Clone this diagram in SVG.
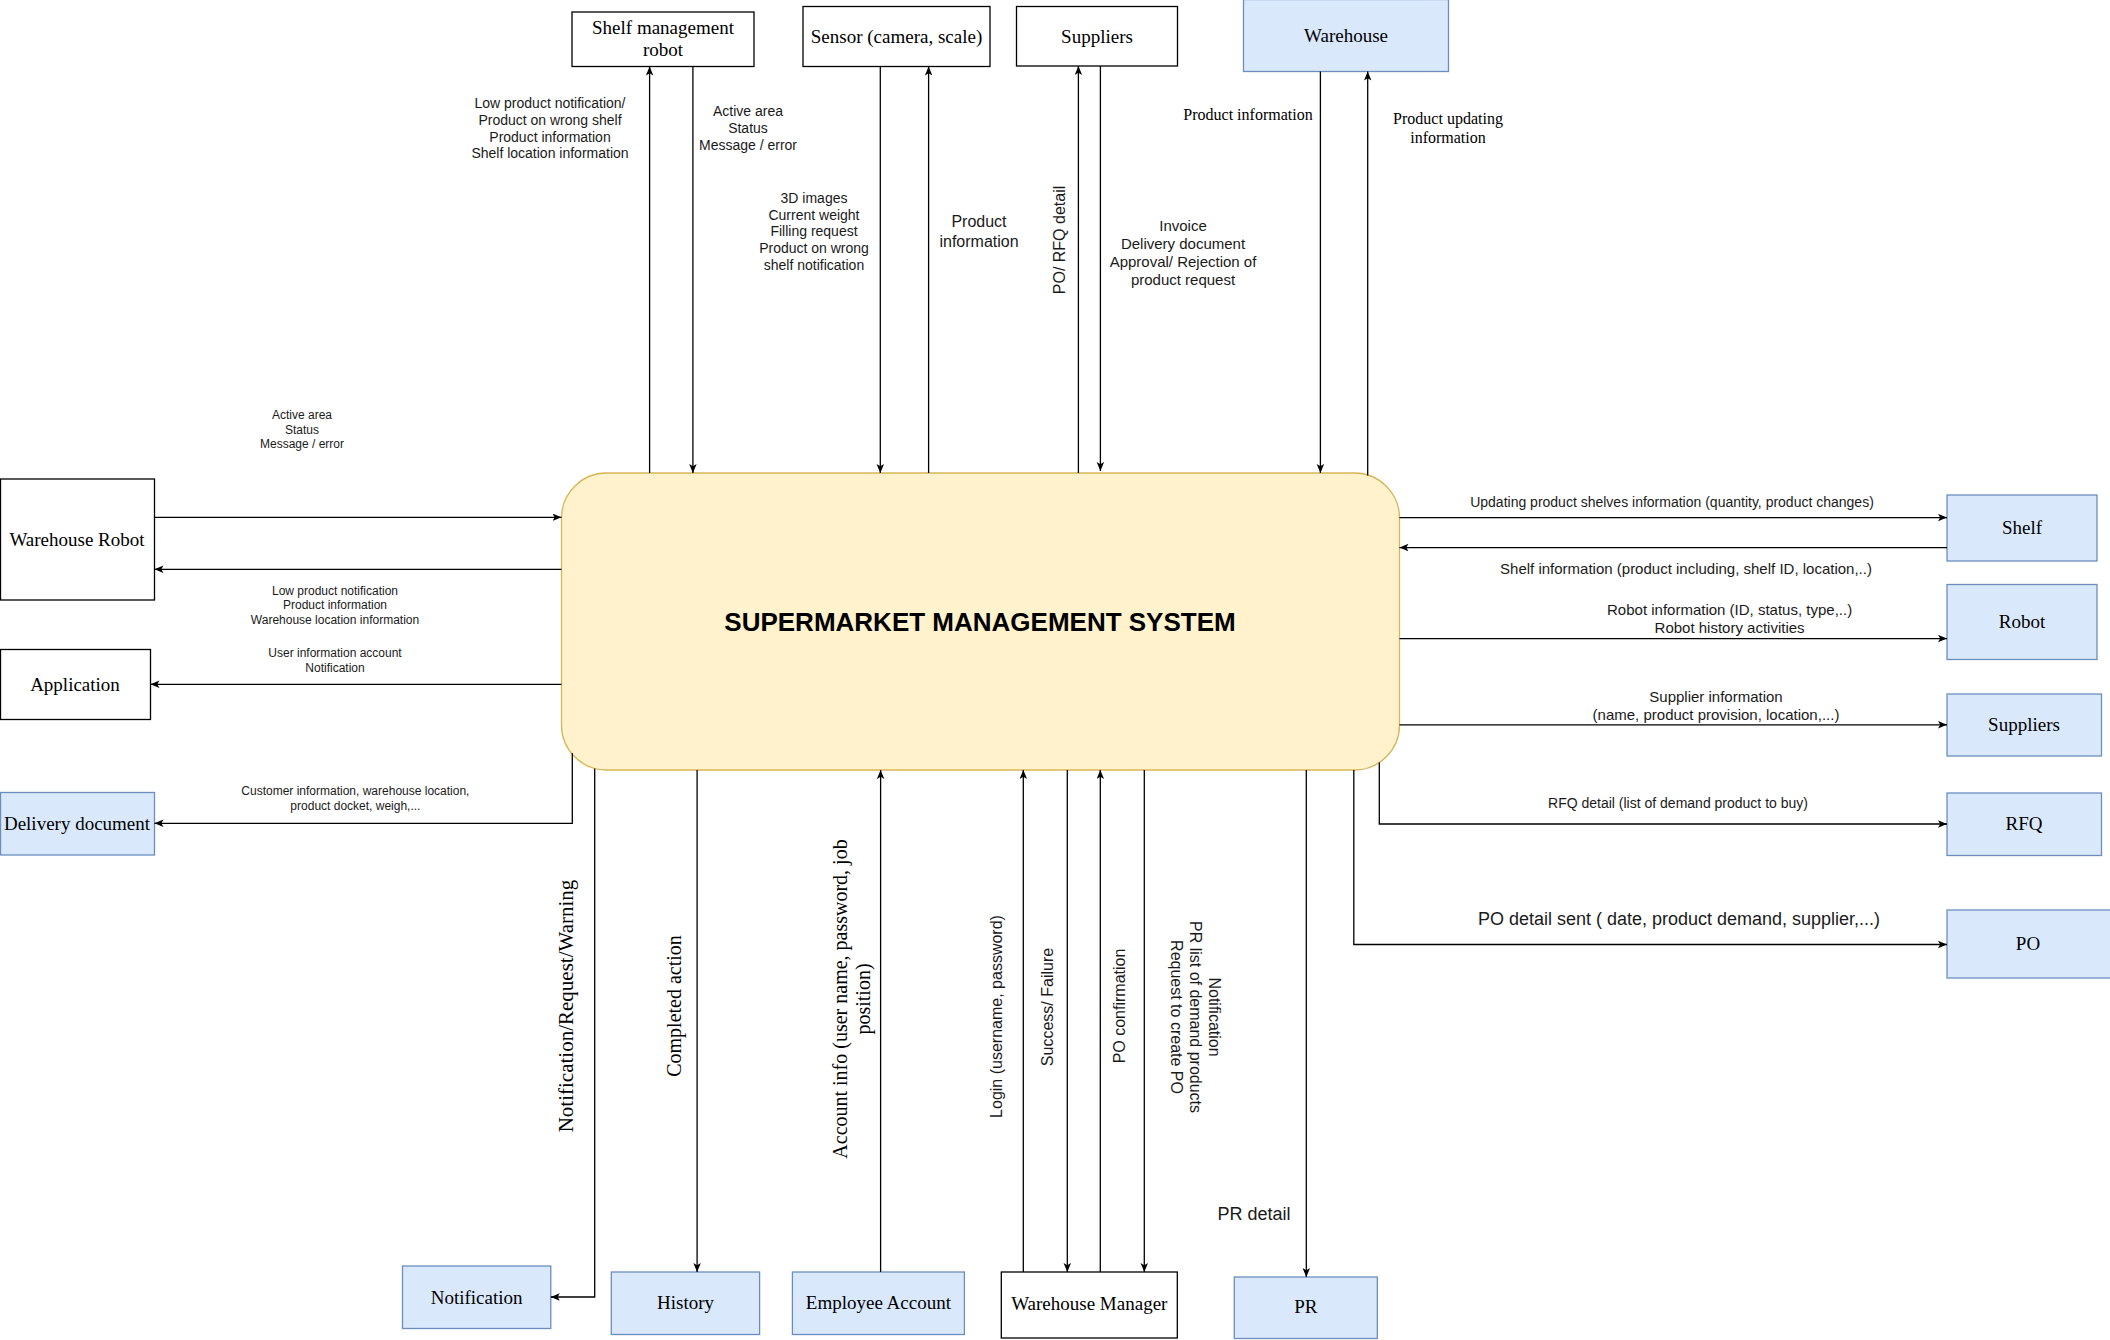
<svg xmlns="http://www.w3.org/2000/svg" width="2110" height="1340" viewBox="0 0 2110 1340">
<defs>
<marker id="arr" markerUnits="userSpaceOnUse" markerWidth="10" markerHeight="8" refX="9" refY="3.75" orient="auto">
<path d="M0,0 L9,3.75 L0,7.5 L2.2,3.75 Z" fill="#000"/>
</marker>
<style>
.box{fill:#fff;stroke:#000;stroke-width:1.3}
.blue{fill:#dae8fc;stroke:#6c8ebf;stroke-width:1.3}
.main{fill:#fff2cc;stroke:#d6b656;stroke-width:1.3}
.nt{font-family:"Liberation Serif","Times New Roman",serif;font-size:19px;fill:#000;text-anchor:middle}
.edge{fill:none;stroke:#000;stroke-width:1.3;marker-end:url(#arr)}
.s{font-family:"Liberation Sans",Arial,sans-serif;fill:#1a1a1a;text-anchor:middle}
.sf{font-family:"Liberation Serif","Times New Roman",serif;fill:#000;text-anchor:middle}
.f12{font-size:12px}.f14{font-size:14px}.f15{font-size:15px}.f16{font-size:16px}.f18{font-size:18px}
</style>
</defs>
<rect width="2110" height="1340" fill="#fff"/>

<g id="main-system">
<rect class="main" x="561.5" y="473" width="838" height="297" rx="45" ry="45"/>
<text x="980" y="631" font-family="Liberation Sans,Arial,sans-serif" font-size="26" font-weight="bold" text-anchor="middle" fill="#000">SUPERMARKET MANAGEMENT SYSTEM</text>
</g>

<g id="shelf-management-robot">
<rect class="box" x="572" y="12" width="182" height="54.5"/>
<text class="nt" font-size="18"><tspan x="663" y="34">Shelf management</tspan><tspan x="663" y="56">robot</tspan></text>
</g>
<g id="sensor">
<rect class="box" x="803" y="6.5" width="187" height="60"/>
<text class="nt" x="896.5" y="42.5">Sensor (camera, scale)</text>
</g>
<g id="suppliers-top">
<rect class="box" x="1016.5" y="6.5" width="161" height="59.5"/>
<text class="nt" x="1097" y="42.5">Suppliers</text>
</g>
<g id="warehouse">
<rect class="blue" x="1243.5" y="-0.5" width="205" height="72"/>
<text class="nt" x="1346" y="42" font-size="18">Warehouse</text>
</g>

<g id="warehouse-robot">
<rect class="box" x="0.5" y="479" width="154" height="121"/>
<text class="nt" x="77" y="545.5">Warehouse Robot</text>
</g>
<g id="application">
<rect class="box" x="0.5" y="649.5" width="150" height="70"/>
<text class="nt" x="75" y="690.5">Application</text>
</g>
<g id="delivery-document">
<rect class="blue" x="0.5" y="792.5" width="154" height="62.5"/>
<text class="nt" x="77" y="830">Delivery document</text>
</g>

<g id="notification">
<rect class="blue" x="402.5" y="1266" width="148.3" height="62.5"/>
<text class="nt" x="476.6" y="1303.5">Notification</text>
</g>
<g id="history">
<rect class="blue" x="611.3" y="1272" width="148.3" height="62.5"/>
<text class="nt" x="685.5" y="1308.5">History</text>
</g>
<g id="employee-account">
<rect class="blue" x="792.4" y="1272" width="172" height="62.5"/>
<text class="nt" x="878.4" y="1308.5">Employee Account</text>
</g>
<g id="warehouse-manager">
<rect class="box" x="1001.3" y="1272" width="176" height="66"/>
<text class="nt" x="1089.3" y="1310">Warehouse Manager</text>
</g>
<g id="pr">
<rect class="blue" x="1234.3" y="1277" width="143" height="61.5"/>
<text class="nt" x="1305.8" y="1313">PR</text>
</g>

<g id="shelf">
<rect class="blue" x="1947" y="495" width="150" height="66"/>
<text class="nt" x="2022" y="534">Shelf</text>
</g>
<g id="robot">
<rect class="blue" x="1947" y="584.5" width="150" height="75"/>
<text class="nt" x="2022" y="628">Robot</text>
</g>
<g id="suppliers-right">
<rect class="blue" x="1947" y="694" width="154.5" height="62"/>
<text class="nt" x="2024" y="731">Suppliers</text>
</g>
<g id="rfq">
<rect class="blue" x="1947" y="793" width="154.5" height="62.5"/>
<text class="nt" x="2024" y="830">RFQ</text>
</g>
<g id="po">
<rect class="blue" x="1947" y="910" width="165" height="68"/>
<text class="nt" x="2028" y="950">PO</text>
</g>

<g id="connectors">
<path class="edge" d="M649.6,473 V66.5"/>
<path class="edge" d="M692.9,66.5 V473"/>
<path class="edge" d="M880.3,66.5 V473"/>
<path class="edge" d="M928.6,473 V66.5"/>
<path class="edge" d="M1078.4,473 V66"/>
<path class="edge" d="M1100.4,66 V471"/>
<path class="edge" d="M1320.4,71.5 V473"/>
<path class="edge" d="M1367.7,475.5 V71.5"/>
<path class="edge" d="M154.5,517.3 H561.5"/>
<path class="edge" d="M561.5,569.3 H154.5"/>
<path class="edge" d="M561.5,684.3 H150.5"/>
<path class="edge" d="M572.3,753 V823.3 H154.5"/>
<path class="edge" d="M594.7,768.5 V1297 H550.8"/>
<path class="edge" d="M697.1,770 V1272"/>
<path class="edge" d="M880.6,1272 V770"/>
<path class="edge" d="M1023.3,1272 V770"/>
<path class="edge" d="M1067.3,770 V1272"/>
<path class="edge" d="M1100.3,1272 V770"/>
<path class="edge" d="M1144.3,770 V1272"/>
<path class="edge" d="M1306.3,770 V1277"/>
<path class="edge" d="M1399.5,517.6 H1947"/>
<path class="edge" d="M1947,547.6 H1399.5"/>
<path class="edge" d="M1399.5,638.6 H1947"/>
<path class="edge" d="M1399.5,724.8 H1947"/>
<path class="edge" d="M1379.3,762.5 V824 H1947"/>
<path class="edge" d="M1353.8,770 V944.5 H1947"/>
</g>

<g id="connector-labels">
<text class="s f14"><tspan x="550" y="108">Low product notification/</tspan><tspan x="550" y="125">Product on wrong shelf</tspan><tspan x="550" y="141.5">Product information</tspan><tspan x="550" y="158">Shelf location information</tspan></text>
<text class="s f14"><tspan x="748" y="116">Active area</tspan><tspan x="748" y="133">Status</tspan><tspan x="748" y="150">Message / error</tspan></text>
<text class="s f14"><tspan x="814" y="203">3D images</tspan><tspan x="814" y="219.5">Current weight</tspan><tspan x="814" y="236">Filling request</tspan><tspan x="814" y="253">Product on wrong</tspan><tspan x="814" y="270">shelf notification</tspan></text>
<text class="s f16"><tspan x="979" y="227">Product</tspan><tspan x="979" y="247">information</tspan></text>
<text class="s f16" transform="translate(1064.5,240) rotate(-90)" x="0" y="0">PO/ RFQ detail</text>
<text class="s f15"><tspan x="1183" y="231">Invoice</tspan><tspan x="1183" y="249">Delivery document</tspan><tspan x="1183" y="267">Approval/ Rejection of</tspan><tspan x="1183" y="285">product request</tspan></text>
<text class="sf" font-size="16" x="1248" y="120">Product information</text>
<text class="sf" font-size="16"><tspan x="1448" y="124">Product updating</tspan><tspan x="1448" y="143">information</tspan></text>

<text class="s f12"><tspan x="302" y="419">Active area</tspan><tspan x="302" y="433.5">Status</tspan><tspan x="302" y="448">Message / error</tspan></text>
<text class="s f12"><tspan x="335" y="595">Low product notification</tspan><tspan x="335" y="609">Product information</tspan><tspan x="335" y="624">Warehouse location information</tspan></text>
<text class="s f12"><tspan x="335" y="657">User information account</tspan><tspan x="335" y="672">Notification</tspan></text>
<text class="s f12"><tspan x="355.4" y="795">Customer information, warehouse location,</tspan><tspan x="355.4" y="810">product docket, weigh,...</tspan></text>

<text class="sf" font-size="21" transform="translate(573,1006) rotate(-90)" x="0" y="0">Notification/Request/Warning</text>
<text class="sf" font-size="20" transform="translate(681,1006) rotate(-90)" x="0" y="0">Completed action</text>
<text class="sf" font-size="20" transform="translate(847,999) rotate(-90)"><tspan x="0" y="0">Account info (user name, password, job</tspan><tspan x="0" y="23">position)</tspan></text>
<text class="s f16" transform="translate(1001.5,1016.5) rotate(-90)" x="0" y="0">Login (username, password)</text>
<text class="s f16" transform="translate(1053,1007) rotate(-90)" x="0" y="0">Success/ Failure</text>
<text class="s f16" transform="translate(1125,1006) rotate(-90)" x="0" y="0">PO confirmation</text>
<text class="s f16" transform="translate(1209,1017) rotate(90)"><tspan x="0" y="0">Notification</tspan><tspan x="0" y="19">PR list of demand products</tspan><tspan x="0" y="38">Request to create PO</tspan></text>
<text class="s f18" x="1254" y="1220">PR detail</text>

<text class="s f14" x="1672" y="507">Updating product shelves information (quantity, product changes)</text>
<text class="s f15" x="1686" y="574">Shelf information (product including, shelf ID, location,..)</text>
<text class="s f15"><tspan x="1729.6" y="615">Robot information (ID, status, type,..)</tspan><tspan x="1729.6" y="633">Robot history activities</tspan></text>
<text class="s f15"><tspan x="1716" y="701.5">Supplier information</tspan><tspan x="1716" y="719.5">(name, product provision, location,...)</tspan></text>
<text class="s f14" x="1678" y="808">RFQ detail (list of demand product to buy)</text>
<text class="s f18" x="1679" y="925">PO detail sent ( date, product demand, supplier,...)</text>
</g>
</svg>
